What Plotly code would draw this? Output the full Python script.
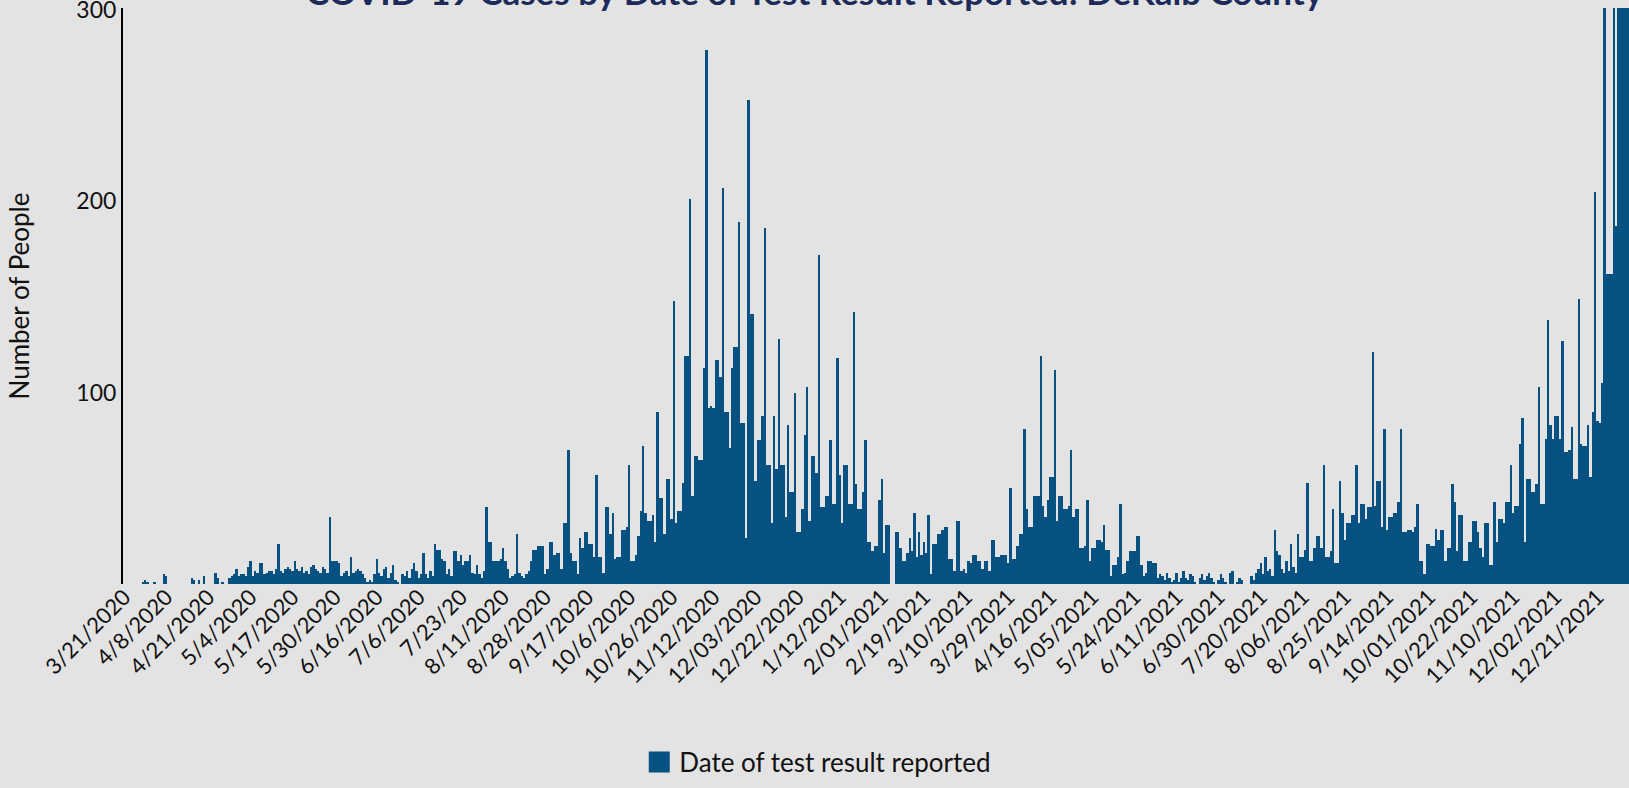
import plotly.graph_objects as go

title_text = "COVID-19 Cases by Date of Test Result Reported: DeKalb County"
series_name = "Date of test result reported"
y_title = "Number of People"

# daily counts (category order)
values = [
    0, 0, 0, 0, 0, 0, 0, 0, 1, 2,
    1, 0, 0, 1, 0, 0, 0, 5, 4, 0,
    0, 0, 0, 0, 0, 0, 0, 0, 0, 3,
    2, 0, 2, 0, 4, 0, 0, 0, 0, 6,
    3, 0, 1, 0, 0, 3, 4, 5, 8, 4,
    5, 5, 4, 9, 12, 4, 7, 6, 11, 11,
    5, 6, 7, 7, 5, 8, 21, 7, 6, 8,
    9, 8, 7, 12, 8, 7, 9, 6, 7, 5,
    9, 10, 8, 7, 6, 9, 8, 6, 35, 12,
    12, 12, 11, 4, 6, 7, 4, 14, 6, 7,
    8, 7, 5, 3, 1, 2, 1, 5, 13, 6,
    4, 8, 9, 3, 6, 10, 2, 1, 0, 5,
    4, 7, 3, 8, 11, 7, 3, 5, 16, 5,
    3, 7, 4, 21, 18, 18, 13, 12, 5, 8,
    4, 17, 17, 12, 15, 10, 12, 12, 15, 6,
    5, 10, 5, 3, 7, 40, 22, 22, 12, 12,
    12, 13, 19, 12, 8, 3, 4, 5, 26, 6,
    4, 3, 5, 7, 12, 18, 18, 20, 20, 20,
    5, 8, 22, 22, 15, 16, 16, 8, 32, 32,
    70, 16, 12, 12, 5, 24, 19, 27, 27, 21,
    21, 14, 57, 14, 14, 6, 40, 40, 26, 37,
    13, 14, 14, 28, 28, 30, 62, 12, 12, 15,
    25, 38, 72, 37, 33, 33, 36, 22, 90, 45,
    45, 26, 55, 55, 34, 148, 32, 38, 38, 53,
    119, 119, 201, 46, 67, 67, 65, 65, 113, 279,
    92, 93, 92, 117, 117, 108, 207, 90, 90, 71,
    113, 124, 124, 189, 84, 84, 24, 253, 141, 141,
    54, 75, 75, 88, 186, 62, 62, 32, 88, 60,
    128, 62, 62, 35, 83, 48, 48, 100, 27, 27,
    39, 78, 103, 33, 67, 67, 58, 172, 40, 40,
    46, 46, 75, 42, 42, 118, 57, 32, 62, 62,
    42, 42, 142, 52, 39, 39, 48, 75, 22, 22,
    17, 20, 20, 44, 55, 16, 31, 31, 0, 0,
    27, 27, 19, 12, 12, 16, 24, 17, 37, 14,
    27, 15, 22, 16, 36, 5, 21, 21, 26, 26,
    28, 30, 30, 13, 13, 7, 33, 33, 7, 8,
    6, 12, 11, 15, 15, 12, 12, 8, 12, 12,
    7, 23, 23, 14, 14, 15, 15, 15, 11, 50,
    13, 13, 20, 26, 26, 81, 39, 30, 30, 46,
    46, 46, 119, 41, 35, 44, 56, 56, 112, 33,
    46, 46, 39, 39, 41, 70, 35, 39, 39, 19,
    19, 20, 44, 12, 19, 19, 23, 23, 22, 31,
    18, 18, 4, 10, 10, 14, 42, 5, 6, 12,
    17, 17, 17, 25, 25, 10, 4, 6, 12, 12,
    11, 11, 3, 5, 4, 2, 6, 3, 1, 2,
    6, 1, 3, 7, 3, 2, 5, 4, 1, 0,
    3, 5, 2, 4, 6, 3, 1, 0, 2, 5,
    3, 1, 0, 6, 7, 0, 1, 3, 2, 0,
    0, 0, 4, 2, 6, 8, 11, 5, 14, 7,
    8, 4, 28, 17, 15, 8, 6, 12, 7, 21,
    9, 6, 26, 14, 14, 18, 53, 12, 12, 19,
    25, 25, 19, 62, 14, 14, 17, 39, 11, 11,
    54, 37, 23, 32, 32, 36, 36, 62, 32, 42,
    42, 34, 40, 40, 121, 41, 54, 54, 30, 81,
    28, 35, 35, 37, 37, 43, 81, 27, 27, 28,
    28, 27, 30, 42, 12, 12, 5, 21, 21, 20,
    20, 29, 23, 28, 28, 12, 19, 19, 52, 43,
    17, 36, 36, 12, 12, 22, 22, 33, 33, 27,
    19, 14, 32, 32, 10, 10, 43, 22, 34, 34,
    32, 43, 43, 62, 37, 41, 41, 73, 87, 22,
    55, 55, 48, 48, 52, 103, 42, 42, 76, 138,
    83, 76, 88, 88, 76, 127, 69, 69, 70, 82,
    55, 55, 149, 73, 72, 72, 83, 56, 90, 205,
    85, 84, 105, 330, 162, 162, 162, 330, 187, 330,
    330, 330, 330, 330,
]

tick_labels = [
    "3/21/2020", "4/8/2020", "4/21/2020", "5/4/2020", "5/17/2020", "5/30/2020",
    "6/16/2020", "7/6/2020", "7/23/20", "8/11/2020", "8/28/2020", "9/17/2020",
    "10/6/2020", "10/26/2020", "11/12/2020", "12/03/2020", "12/22/2020", "1/12/2021",
    "2/01/2021", "2/19/2021", "3/10/2021", "3/29/2021", "4/16/2021", "5/05/2021",
    "5/24/2021", "6/11/2021", "6/30/2021", "7/20/2021", "8/06/2021", "8/25/2021",
    "9/14/2021", "10/01/2021", "10/22/2021", "11/10/2021", "12/02/2021", "12/21/2021",
]
tick_step = 18
y_ticks = [100, 200, 300]

BAR = "#055181"
BG = "#E3E3E3"
FONT = "Lato"

x_pos = list(range(len(values)))
tick_vals = [i * tick_step for i in range(len(tick_labels))]

fig = go.Figure()
fig.add_trace(go.Bar(
    x=x_pos, y=values, marker=dict(color=BAR, line=dict(width=0)),
    showlegend=False, hoverinfo="y",
))
# legend entry
fig.add_trace(go.Scatter(
    x=[None], y=[None], mode="markers", name=series_name,
    marker=dict(symbol="square", size=16, color=BAR, line=dict(color=BAR, width=5)),
))

fig.update_layout(
    width=1629, height=788,
    margin=dict(l=123, r=0, t=8, b=204, autoexpand=False),
    paper_bgcolor=BG, plot_bgcolor=BG,
    bargap=0,
    font=dict(family=FONT, color="#111111", size=22),
    title=dict(text="<b>" + title_text + "</b>", x=0.5, xref="container", xanchor="center",
               y=0.994, yref="container", yanchor="bottom",
               font=dict(family=FONT, size=35, color="#1C2B5A")),
    showlegend=True,
    legend=dict(orientation="h", x=0.502, xanchor="center", xref="container",
                y=0.033, yanchor="middle", yref="container",
                font=dict(family=FONT, size=26, color="#111111"),
                bgcolor="rgba(0,0,0,0)"),
    xaxis=dict(range=[-0.5, len(values) - 0.5], tickmode="array", tickvals=tick_vals,
               ticktext=tick_labels, tickangle=-45, showgrid=False, zeroline=False,
               showline=False, ticks="", tickfont=dict(family=FONT, size=22, color="#111111"),
               ticklabelstandoff=-5, automargin=False),
    yaxis=dict(range=[0, 301], tickmode="array", tickvals=y_ticks, showgrid=False,
               zeroline=False, showline=True, linecolor="#000000", linewidth=2,
               ticks="", tickfont=dict(family=FONT, size=23, color="#111111"),
               ticklabeloverflow="allow",
               title=dict(text=y_title, font=dict(family=FONT, size=26, color="#111111"), standoff=39),
               automargin=False),
)

fig.write_html("out.html", config={"displayModeBar": False},
               post_script="document.body.style.margin='0';document.body.style.overflow='hidden';")
